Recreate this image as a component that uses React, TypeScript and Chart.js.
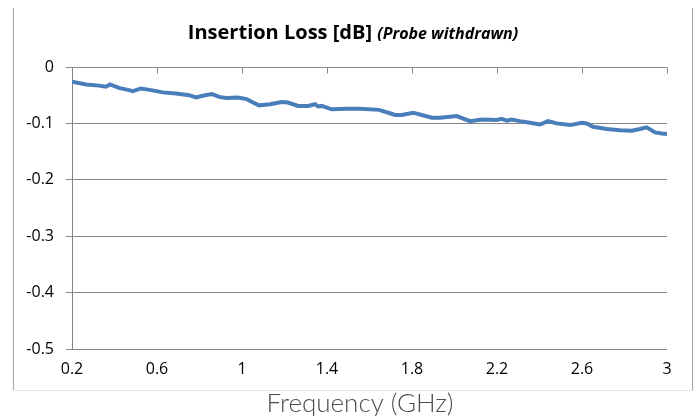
import React, { useEffect, useRef } from "react";
import { Chart, registerables } from "chart.js";

Chart.register(...registerables);

// ---- data ----
const freqGHz = [
  0.2, 0.266, 0.327, 0.36, 0.379, 0.421, 0.468, 0.486, 0.525, 0.572, 0.627, 0.689,
  0.751, 0.784, 0.815, 0.859, 0.892, 0.925, 0.981, 1.022, 1.052, 1.08, 1.132, 1.187,
  1.216, 1.264, 1.311, 1.344, 1.358, 1.375, 1.422, 1.493, 1.555, 1.645, 1.696, 1.72,
  1.752, 1.805, 1.846, 1.893, 1.932, 2.01, 2.073, 2.128, 2.199, 2.222, 2.246, 2.269,
  2.308, 2.355, 2.402, 2.44, 2.481, 2.544, 2.599, 2.622, 2.652, 2.716, 2.779, 2.834,
  2.873, 2.904, 2.944, 2.975, 3.0,
];
const lossDb = [
  -0.026, -0.031, -0.033, -0.035, -0.031, -0.037, -0.041, -0.043, -0.038, -0.041, -0.045, -0.047,
  -0.05, -0.054, -0.051, -0.048, -0.053, -0.055, -0.054, -0.057, -0.063, -0.068, -0.066, -0.062,
  -0.063, -0.069, -0.069, -0.066, -0.07, -0.069, -0.075, -0.074, -0.074, -0.076, -0.082, -0.085,
  -0.085, -0.081, -0.085, -0.09, -0.09, -0.087, -0.096, -0.093, -0.094, -0.092, -0.095, -0.093,
  -0.096, -0.099, -0.102, -0.096, -0.1, -0.103, -0.099, -0.1, -0.106, -0.11, -0.112, -0.113,
  -0.11, -0.107, -0.116, -0.118, -0.119,
];
const xTickValues = [0.2, 0.6, 1, 1.4, 1.8, 2.2, 2.6, 3];
const yTickValues = [0, -0.1, -0.2, -0.3, -0.4, -0.5];
const titleMain = "Insertion Loss [dB]";
const titleSub = "(Probe withdrawn)";
const xAxisTitle = "Frequency (GHz)";

const GRID = "#868686";
const LINE = "#4a7ebb";

const fmt = (v: number) => String(Math.round(v * 10) / 10);

const framePlugin = {
  id: "frameAndTitle",
  afterDraw(chart: any) {
    const ctx = chart.ctx;
    const xs = chart.scales.x;
    ctx.save();
    // frame
    ctx.lineWidth = 1;
    ctx.strokeStyle = "#a6a6a6";
    ctx.beginPath();
    ctx.moveTo(13.5, 8);
    ctx.lineTo(13.5, 391);
    ctx.moveTo(692.5, 8);
    ctx.lineTo(692.5, 391);
    ctx.stroke();
    ctx.strokeStyle = "#e3e3e3";
    ctx.beginPath();
    ctx.moveTo(13, 390.5);
    ctx.lineTo(693, 390.5);
    ctx.stroke();
    // x tick marks on the zero line pointing down
    ctx.strokeStyle = GRID;
    ctx.beginPath();
    const y0 = Math.round(chart.scales.y.getPixelForValue(0)) + 0.5;
    for (const t of xTickValues) {
      const px = Math.round(xs.getPixelForValue(t)) + 0.5;
      ctx.moveTo(px, y0);
      ctx.lineTo(px, y0 + 6);
    }
    ctx.stroke();
    // title
    const f1 = 'bold 20px "Open Sans"';
    const f2 = 'italic bold 16px "Open Sans"';
    ctx.font = f1;
    const w1 = ctx.measureText(titleMain + " ").width;
    ctx.font = f2;
    const w2 = ctx.measureText(titleSub).width;
    const cx = (13 + 693) / 2;
    const sx = cx - (w1 + w2) / 2;
    ctx.fillStyle = "#000";
    ctx.textBaseline = "alphabetic";
    ctx.textAlign = "left";
    ctx.font = f1;
    ctx.fillText(titleMain + " ", sx, 39);
    ctx.font = f2;
    ctx.fillText(titleSub, sx + w1, 39);
    // x axis title (below the frame)
    ctx.font = '300 26px "Lato"';
    ctx.fillStyle = "#4d4d4d";
    ctx.textAlign = "center";
    ctx.textBaseline = "middle";
    ctx.fillText(xAxisTitle, 360, 404);
    ctx.restore();
  },
};

export default function App() {
  const ref = useRef<HTMLCanvasElement | null>(null);
  useEffect(() => {
    if (!ref.current) return;
    const chart = new Chart(ref.current, {
      type: "line",
      data: {
        datasets: [
          {
            data: freqGHz.map((f, i) => ({ x: f, y: lossDb[i] })),
            borderColor: LINE,
            borderWidth: 4,
            pointRadius: 0,
            tension: 0,
            fill: false,
          },
        ],
      },
      options: {
        responsive: false,
        animation: false,
        layout: { padding: { top: 67, right: 33, left: 0, bottom: 0 } },
        plugins: { legend: { display: false }, title: { display: false }, tooltip: { enabled: false } },
        scales: {
          x: {
            type: "linear",
            min: 0.2,
            max: 3,
            afterBuildTicks: (s: any) => {
              s.ticks = xTickValues.map((v) => ({ value: v }));
            },
            afterFit: (s: any) => {
              s.height = 67;
            },
            grid: { display: false, drawTicks: false },
            border: { display: false },
            ticks: {
              padding: 11,
              maxRotation: 0,
              autoSkip: false,
              color: "#000",
              font: { family: "Open Sans", size: 16 },
              callback: (v: any) => fmt(Number(v)),
            },
            title: { display: false },
          },
          y: {
            min: -0.5,
            max: 0,
            afterBuildTicks: (s: any) => {
              s.ticks = yTickValues.map((v) => ({ value: v }));
            },
            afterFit: (s: any) => {
              s.width = 72;
            },
            grid: { color: GRID, tickLength: 6, drawTicks: true },
            border: { display: true, color: GRID },
            ticks: {
              padding: 12,
              color: "#000",
              font: { family: "Open Sans", size: 16 },
              callback: (v: any) => fmt(Number(v)),
            },
          },
        },
      },
      plugins: [framePlugin],
    });
    return () => chart.destroy();
  }, []);
  return (
    <div style={{ position: "absolute", left: 0, top: 0, width: 700, height: 416, background: "#fff" }}>
      <canvas ref={ref} width={700} height={416} />
    </div>
  );
}
